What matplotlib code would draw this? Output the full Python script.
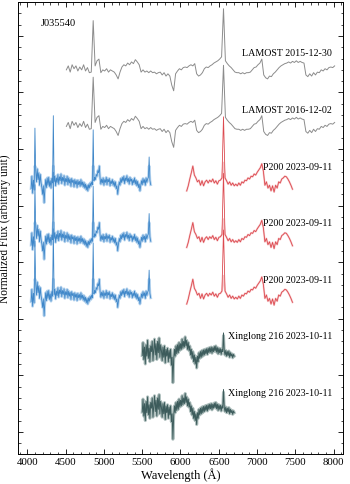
import numpy as np
import matplotlib
matplotlib.use("Agg")
import matplotlib.pyplot as plt
from matplotlib.ticker import MultipleLocator, AutoMinorLocator

plt.rcParams['font.family'] = ['Liberation Serif', 'DejaVu Serif']

# LAMOST spectrum (same for both epochs), 25 A sampling from 4511 A
lamost_start, lamost_step = 4511, 25
lamost_flux = [
    0.00, 0.07, -0.04, 0.09, 0.02, 0.07, -0.02, 0.05, 0.00, 0.09, -0.02, 0.04, -0.05, -0.04,
    0.87,
    0.07, 0.16, 0.19, -0.05, 0.00, -0.02, 0.02, -0.04, 0.00, -0.02, -0.04, -0.09, -0.16,
    -0.04, 0.05, 0.09, 0.07, 0.12, 0.09, 0.14, 0.11, 0.18, 0.14, 0.09,
    -0.04, 0.00, -0.04, -0.02, -0.05, -0.02, -0.05, -0.04, -0.07, -0.05, -0.04, -0.09, -0.05,
    -0.11, -0.07, -0.11, -0.27, -0.37,
    -0.07, -0.02, 0.02, 0.00, 0.04, 0.05, 0.04, 0.07, 0.09, 0.07, 0.11,
    -0.07, -0.11, -0.09, -0.05, 0.02, 0.05, 0.04, 0.07, 0.09, 0.12, 0.14, 0.16, 0.19, 0.23,
    1.08,
    0.16, 0.11, 0.07, 0.04, 0.00, -0.04, -0.05, -0.05, -0.07, -0.05, -0.07, -0.05, -0.05,
    -0.04, 0.00, 0.04, 0.05, 0.09, 0.12, 0.19,
    -0.09, -0.14, -0.16, -0.11, -0.12, -0.07, -0.04, 0.00, 0.04, 0.07, 0.09, 0.11, 0.12,
    0.14, 0.12, 0.15, 0.13, 0.16, 0.13, 0.15, 0.13, 0.12,
    -0.09, -0.12, -0.07, -0.11, -0.05, -0.09, -0.04, -0.05, 0.00, -0.02, 0.02, 0.00, 0.04,
    0.05, 0.04, 0.07,
]

# P200 blue arm, 10 A sampling from 4051 A
blue_start, blue_step = 4051, 10
blue_flux = [
    -0.10, 0.12, -0.18, 0.05, -0.12, 0.97, 0.22, 0.02, 0.25, 0.06,
    0.18, -0.04, 0.15, 0.01, -0.08, -0.20, -0.05, -0.35, -0.10, 0.06,
    -0.08, 0.09, -0.04, 0.10, -0.06, 0.04, -0.09, 0.08, 0.00, 1.19,
    0.02, 0.12, -0.05, 0.09, 0.01, 0.15, -0.02, 0.11, 0.04, 0.16,
    -0.01, 0.10, 0.03, 0.13, -0.04, 0.08, 0.02, 0.12, -0.03, 0.09,
    0.00, 0.07, -0.06, 0.08, 0.01, 0.05, -0.07, 0.06, -0.02, 0.04,
    -0.08, 0.05, -0.03, 0.03, -0.06, 0.06, -0.04, 0.02, -0.07, 0.01,
    -0.09, -0.02, -0.12, -0.04, -0.14, -0.03, -0.09, 0.00, -0.06, 0.02,
    -0.03, 0.94, 0.04, 0.10, 0.06, 0.15, 0.12, 0.22, 0.18, 0.30,
    0.08, -0.02, 0.07, 0.00, 0.09, -0.04, 0.06, 0.01, 0.10, -0.03,
    0.07, 0.02, 0.08, -0.05, 0.04, -0.01, 0.06, -0.04, 0.03, -0.06,
    0.02, -0.10, -0.05, -0.20, -0.08, 0.02, -0.04, 0.08, 0.01, 0.10,
    0.03, 0.12, -0.01, 0.09, 0.04, 0.13, 0.02, 0.08, -0.02, 0.10,
    0.03, 0.07, -0.03, 0.06, 0.00, 0.09, -0.02, 0.05, -0.05, 0.03,
    -0.08, -0.02, -0.14, -0.05, 0.04, -0.03, 0.08, 0.00, 0.06, -0.04,
    0.09, 0.01, 0.07, 0.10, 0.46, 0.05, -0.03,
]

# P200 red arm, 20 A sampling from 6081 A
red_start, red_step = 6081, 20
red_flux = [
    -0.14, -0.05, 0.07, 0.18, 0.30, 0.14, 0.09, 0.02, 0.05, -0.04, 0.04, -0.05, 0.02, 0.05,
    0.00, 0.05, 0.02, 0.07, 0.00, 0.04, -0.02, 0.04, 0.05, 0.09,
    1.17,
    0.09, 0.04, -0.02, 0.02, -0.04, 0.00, -0.05, -0.02, -0.05, 0.00, -0.04, 0.02, 0.00, 0.05,
    0.04, 0.09, 0.07, 0.12, 0.11, 0.16, 0.14, 0.19, 0.23, 0.27, 0.34, 0.21, -0.04, 0.02,
    -0.09, -0.04, -0.14, -0.05, -0.16, -0.04, -0.09, 0.02, 0.00, 0.07, 0.09, 0.12, 0.11,
    0.07, 0.02, -0.04, -0.11,
]

# Xinglong 2.16 m, 10 A sampling from 5501 A
xl_start, xl_step = 5501, 10
xl_flux = [
    -0.05, 0.18, -0.12, 0.10, -0.20, 0.14, -0.06, 0.22, -0.10, 0.08,
    -0.16, 0.12, 0.02, 0.20, -0.14, 0.06, 0.24, -0.04, 0.16, -0.12,
    0.20, 0.00, 0.26, -0.08, 0.14, 0.04, -0.14, 0.10, -0.08, 0.12,
    -0.18, 0.06, -0.06, 0.08, -0.16, 0.04, -0.10, 0.06, -0.22, -0.08,
    -0.53, -0.12, 0.06, -0.06, 0.12, -0.02, 0.14, 0.00, 0.18, 0.04,
    0.16, 0.06, 0.24, 0.08, 0.20, 0.10, 0.28, 0.12, 0.22, 0.06,
    0.18, 0.04, 0.12, -0.04, 0.06, -0.10, 0.02, -0.16, -0.04, -0.20,
    -0.08, -0.27, -0.06, -0.16, 0.00, -0.10, 0.02, -0.08, 0.04, -0.06,
    0.05, -0.04, 0.06, -0.02, 0.07, -0.03, 0.08, 0.00, 0.09, 0.01,
    0.10, -0.01, 0.09, 0.02, 0.11, 0.03, 0.12, 0.01, 0.09, -0.02,
    0.08, 0.00, 0.07, -0.03, 0.06, 0.02, 0.35, 0.03, -0.04, 0.04,
    -0.06, 0.02, -0.05, 0.03, -0.08, 0.00, -0.06, -0.02, -0.09, -0.03,
    -0.06,
]

lamost_labels = ['LAMOST 2015-12-30', 'LAMOST 2016-12-02']
lamost_offsets = [6.4, 5.4]
p200_labels = ['P200 2023-09-11', 'P200 2023-09-11', 'P200 2023-09-11']
p200_offsets = [4.4, 3.4, 2.4]
xl_labels = ['Xinglong 216 2023-10-11', 'Xinglong 216 2023-10-11']
xl_offsets = [1.4, 0.4]


def wave(start, step, flux):
    return start + step * np.arange(len(flux))


fig = plt.figure(figsize=(3.5, 4.85), dpi=100)
ax = fig.add_axes([0.0514, 0.0619, 0.9286, 0.932])

lam_w = wave(lamost_start, lamost_step, lamost_flux)
for off in lamost_offsets:
    ax.plot(lam_w, np.array(lamost_flux) + off, color='#8c8c8c', lw=0.7)

blue_w = wave(blue_start, blue_step, blue_flux)
red_w = wave(red_start, red_step, red_flux)
blue_arr = np.array(blue_flux)
red_arr = np.array(red_flux)
for off in p200_offsets:
    # light band underneath, without the emission spikes
    ax.plot(blue_w, np.clip(blue_arr, None, 0.3) + off, color='#9fc6ea', lw=2.0, alpha=0.7)
    ax.plot(blue_w, blue_arr + off, color='#3f87c9', lw=0.6)
    ax.plot(red_w, np.clip(red_arr, None, 0.36) + off, color='#f2a7aa', lw=1.4, alpha=0.6)
    ax.plot(red_w, red_arr + off, color='#dc4a50', lw=0.6)

xl_w = wave(xl_start, xl_step, xl_flux)
xl_arr = np.array(xl_flux)
for off in xl_offsets:
    ax.plot(xl_w, np.clip(xl_arr, None, 0.3) + off, color='#9fb3b1', lw=2.2, alpha=0.8)
    ax.plot(xl_w, xl_arr + off, color='#3d5c5c', lw=0.7)

tx = 7975
for lab, off in zip(lamost_labels, lamost_offsets):
    ax.text(tx, off + 0.3, lab, ha='right', va='center', fontsize=7.2)
for lab, off in zip(p200_labels, p200_offsets):
    ax.text(tx, off + 0.3, lab, ha='right', va='center', fontsize=7.2)
for lab, off in zip(xl_labels, xl_offsets):
    ax.text(tx, off + 0.3, lab, ha='right', va='center', fontsize=7.2)
ax.text(4180, 7.24, 'J035540', ha='left', va='center', fontsize=7.5)

ax.set_xlim(3880, 8120)
ax.set_ylim(-0.39, 7.6)
ax.xaxis.set_major_locator(MultipleLocator(500))
ax.xaxis.set_minor_locator(MultipleLocator(100))
ax.yaxis.set_major_locator(MultipleLocator(1))
ax.yaxis.set_minor_locator(AutoMinorLocator(5))
ax.tick_params(which='both', direction='in', top=True, right=True, labelsize=7.8, pad=2)
ax.tick_params(which='major', length=3.5, width=0.6)
ax.tick_params(which='minor', length=1.8, width=0.5)
ax.set_yticklabels([])
for s in ax.spines.values():
    s.set_linewidth(0.7)

ax.set_xlabel('Wavelength (Å)', fontsize=9, labelpad=1)
ax.set_ylabel('Normalized Flux (arbitrary unit)', fontsize=8.3, labelpad=3)

fig.savefig('out.png', dpi=100)
